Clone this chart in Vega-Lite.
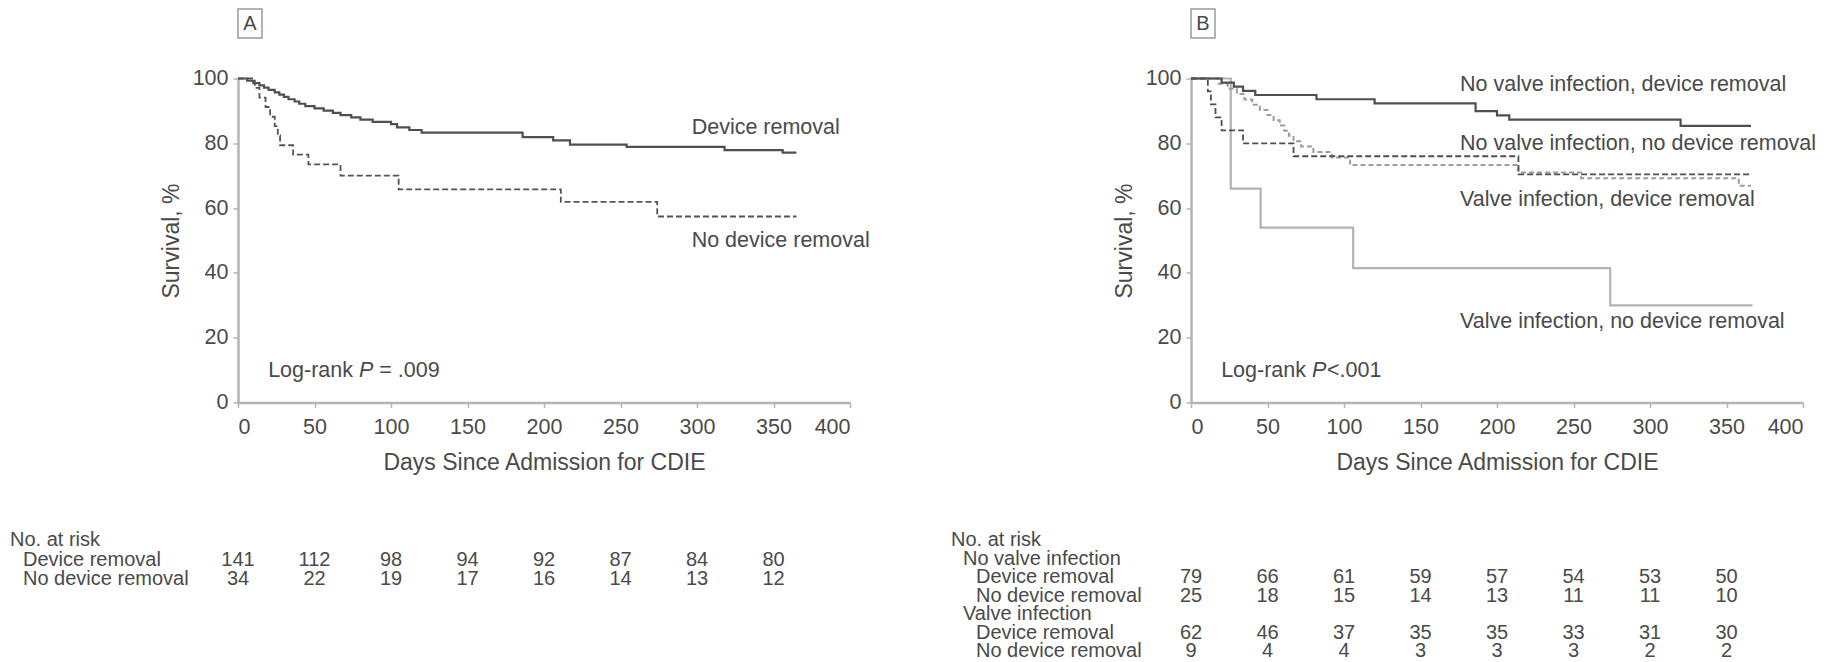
{
  "$schema": "https://vega.github.io/schema/vega-lite/v6.json",
  "padding": {"left": 10, "top": 8, "right": 0, "bottom": 0},
  "background": "white",
  "config": {
    "view": {"stroke": null},
    "font": "Liberation Sans",
    "text": {"font": "Liberation Sans", "fontSize": 21.5, "color": "#4a4a4a"},
    "axis": {
      "grid": false,
      "domainColor": "#b5b5b5",
      "domainWidth": 2.5,
      "tickColor": "#b5b5b5",
      "tickWidth": 1.5,
      "tickSize": 5,
      "labelFont": "Liberation Sans",
      "labelFontSize": 21.5,
      "labelColor": "#4a4a4a",
      "labelPadding": 5,
      "titleFont": "Liberation Sans",
      "titleFontSize": 23,
      "titleFontWeight": "normal",
      "titleColor": "#4a4a4a"
    },
    "axisX": {"labelPadding": 9, "titlePadding": 13},
    "axisY": {"titlePadding": 9}
  },
  "datasets": {
    "kmA": [
      {"group": "Device removal", "day": 0, "surv": 100},
      {"group": "Device removal", "day": 6, "surv": 99.3},
      {"group": "Device removal", "day": 10, "surv": 98.6},
      {"group": "Device removal", "day": 14, "surv": 97.9},
      {"group": "Device removal", "day": 17, "surv": 97.2},
      {"group": "Device removal", "day": 20, "surv": 96.5},
      {"group": "Device removal", "day": 24, "surv": 95.7},
      {"group": "Device removal", "day": 27, "surv": 95.0},
      {"group": "Device removal", "day": 30, "surv": 94.3},
      {"group": "Device removal", "day": 33, "surv": 93.6},
      {"group": "Device removal", "day": 37, "surv": 92.9},
      {"group": "Device removal", "day": 40, "surv": 92.2},
      {"group": "Device removal", "day": 44, "surv": 91.5},
      {"group": "Device removal", "day": 50, "surv": 90.8},
      {"group": "Device removal", "day": 56, "surv": 90.1},
      {"group": "Device removal", "day": 62, "surv": 89.4},
      {"group": "Device removal", "day": 67, "surv": 88.7},
      {"group": "Device removal", "day": 74, "surv": 88.0},
      {"group": "Device removal", "day": 80, "surv": 87.3},
      {"group": "Device removal", "day": 88, "surv": 86.6},
      {"group": "Device removal", "day": 100, "surv": 85.9},
      {"group": "Device removal", "day": 104, "surv": 84.9},
      {"group": "Device removal", "day": 112, "surv": 84.1},
      {"group": "Device removal", "day": 120, "surv": 83.3},
      {"group": "Device removal", "day": 186, "surv": 81.9},
      {"group": "Device removal", "day": 206, "surv": 80.9},
      {"group": "Device removal", "day": 217, "surv": 79.6},
      {"group": "Device removal", "day": 254, "surv": 78.9},
      {"group": "Device removal", "day": 318, "surv": 77.9},
      {"group": "Device removal", "day": 356, "surv": 77.1},
      {"group": "Device removal", "day": 365, "surv": 77.1},
      {"group": "No device removal", "day": 0, "surv": 100},
      {"group": "No device removal", "day": 11, "surv": 97.1},
      {"group": "No device removal", "day": 14, "surv": 94.1},
      {"group": "No device removal", "day": 18, "surv": 91.2},
      {"group": "No device removal", "day": 21, "surv": 88.2},
      {"group": "No device removal", "day": 24, "surv": 85.3},
      {"group": "No device removal", "day": 26, "surv": 82.4},
      {"group": "No device removal", "day": 27.5, "surv": 79.4},
      {"group": "No device removal", "day": 36, "surv": 76.5},
      {"group": "No device removal", "day": 46, "surv": 73.5},
      {"group": "No device removal", "day": 67, "surv": 70.0},
      {"group": "No device removal", "day": 105, "surv": 65.8},
      {"group": "No device removal", "day": 211, "surv": 61.9},
      {"group": "No device removal", "day": 274, "surv": 57.4},
      {"group": "No device removal", "day": 365, "surv": 57.4}
    ],
    "kmB": [
      {"group": "NV-DR", "day": 0, "surv": 100},
      {"group": "NV-DR", "day": 20, "surv": 98.7},
      {"group": "NV-DR", "day": 28, "surv": 97.5},
      {"group": "NV-DR", "day": 34, "surv": 96.2},
      {"group": "NV-DR", "day": 42, "surv": 94.9},
      {"group": "NV-DR", "day": 82, "surv": 93.6},
      {"group": "NV-DR", "day": 120, "surv": 92.3},
      {"group": "NV-DR", "day": 186, "surv": 89.9},
      {"group": "NV-DR", "day": 200, "surv": 88.6},
      {"group": "NV-DR", "day": 208, "surv": 87.3},
      {"group": "NV-DR", "day": 320, "surv": 85.4},
      {"group": "NV-DR", "day": 366, "surv": 85.4},
      {"group": "NV-NDR", "day": 0, "surv": 100},
      {"group": "NV-NDR", "day": 11, "surv": 96},
      {"group": "NV-NDR", "day": 13, "surv": 92},
      {"group": "NV-NDR", "day": 16, "surv": 88},
      {"group": "NV-NDR", "day": 20, "surv": 84},
      {"group": "NV-NDR", "day": 34, "surv": 80},
      {"group": "NV-NDR", "day": 67, "surv": 76},
      {"group": "NV-NDR", "day": 214, "surv": 70.4},
      {"group": "NV-NDR", "day": 366, "surv": 70.4},
      {"group": "VI-DR", "day": 0, "surv": 100},
      {"group": "VI-DR", "day": 18, "surv": 98.4},
      {"group": "VI-DR", "day": 24, "surv": 96.8},
      {"group": "VI-DR", "day": 30, "surv": 95.2},
      {"group": "VI-DR", "day": 35, "surv": 93.5},
      {"group": "VI-DR", "day": 40, "surv": 91.9},
      {"group": "VI-DR", "day": 45, "surv": 90.3},
      {"group": "VI-DR", "day": 50, "surv": 88.7},
      {"group": "VI-DR", "day": 54, "surv": 87.1},
      {"group": "VI-DR", "day": 58, "surv": 85.5},
      {"group": "VI-DR", "day": 61, "surv": 83.9},
      {"group": "VI-DR", "day": 64, "surv": 82.3},
      {"group": "VI-DR", "day": 67, "surv": 80.6},
      {"group": "VI-DR", "day": 72, "surv": 79.0},
      {"group": "VI-DR", "day": 80, "surv": 77.3},
      {"group": "VI-DR", "day": 92, "surv": 75.6},
      {"group": "VI-DR", "day": 104, "surv": 73.3},
      {"group": "VI-DR", "day": 214, "surv": 71.0},
      {"group": "VI-DR", "day": 255, "surv": 69.2},
      {"group": "VI-DR", "day": 358, "surv": 66.9},
      {"group": "VI-DR", "day": 366, "surv": 66.9},
      {"group": "VI-NDR", "day": 0, "surv": 100},
      {"group": "VI-NDR", "day": 26, "surv": 66},
      {"group": "VI-NDR", "day": 45.5, "surv": 54},
      {"group": "VI-NDR", "day": 106, "surv": 41.5},
      {"group": "VI-NDR", "day": 274, "surv": 30},
      {"group": "VI-NDR", "day": 367, "surv": 30}
    ],
    "riskA": [
      {"row": 2, "day": 0, "n": 141}, {"row": 2, "day": 50, "n": 112}, {"row": 2, "day": 100, "n": 98}, {"row": 2, "day": 150, "n": 94},
      {"row": 2, "day": 200, "n": 92}, {"row": 2, "day": 250, "n": 87}, {"row": 2, "day": 300, "n": 84}, {"row": 2, "day": 350, "n": 80},
      {"row": 3, "day": 0, "n": 34}, {"row": 3, "day": 50, "n": 22}, {"row": 3, "day": 100, "n": 19}, {"row": 3, "day": 150, "n": 17},
      {"row": 3, "day": 200, "n": 16}, {"row": 3, "day": 250, "n": 14}, {"row": 3, "day": 300, "n": 13}, {"row": 3, "day": 350, "n": 12}
    ],
    "rowsA": [
      {"row": 1, "label": "No. at risk", "level": 0},
      {"row": 2, "label": "Device removal", "level": 2},
      {"row": 3, "label": "No device removal", "level": 2}
    ],
    "riskB": [
      {"row": 3, "day": 0, "n": 79}, {"row": 3, "day": 50, "n": 66}, {"row": 3, "day": 100, "n": 61}, {"row": 3, "day": 150, "n": 59},
      {"row": 3, "day": 200, "n": 57}, {"row": 3, "day": 250, "n": 54}, {"row": 3, "day": 300, "n": 53}, {"row": 3, "day": 350, "n": 50},
      {"row": 4, "day": 0, "n": 25}, {"row": 4, "day": 50, "n": 18}, {"row": 4, "day": 100, "n": 15}, {"row": 4, "day": 150, "n": 14},
      {"row": 4, "day": 200, "n": 13}, {"row": 4, "day": 250, "n": 11}, {"row": 4, "day": 300, "n": 11}, {"row": 4, "day": 350, "n": 10},
      {"row": 6, "day": 0, "n": 62}, {"row": 6, "day": 50, "n": 46}, {"row": 6, "day": 100, "n": 37}, {"row": 6, "day": 150, "n": 35},
      {"row": 6, "day": 200, "n": 35}, {"row": 6, "day": 250, "n": 33}, {"row": 6, "day": 300, "n": 31}, {"row": 6, "day": 350, "n": 30},
      {"row": 7, "day": 0, "n": 9}, {"row": 7, "day": 50, "n": 4}, {"row": 7, "day": 100, "n": 4}, {"row": 7, "day": 150, "n": 3},
      {"row": 7, "day": 200, "n": 3}, {"row": 7, "day": 250, "n": 3}, {"row": 7, "day": 300, "n": 2}, {"row": 7, "day": 350, "n": 2}
    ],
    "rowsB": [
      {"row": 1, "label": "No. at risk", "level": 0},
      {"row": 2, "label": "No valve infection", "level": 1},
      {"row": 3, "label": "Device removal", "level": 2},
      {"row": 4, "label": "No device removal", "level": 2},
      {"row": 5, "label": "Valve infection", "level": 1},
      {"row": 6, "label": "Device removal", "level": 2},
      {"row": 7, "label": "No device removal", "level": 2}
    ]
  },
  "hconcat": [
    {
      "spacing": 28.5,
      "vconcat": [
        {
          "width": 24,
          "height": 29,
          "view": {"stroke": "#9a9a9a", "strokeWidth": 1.5},
          "data": {"values": [{"panel": "A"}]},
          "mark": {"type": "text", "fontSize": 20, "baseline": "middle", "align": "center"},
          "encoding": {"text": {"field": "panel"}}
        },
        {
          "width": 612,
          "height": 324,
          "layer": [
            {
              "data": {"name": "kmA"},
              "transform": [{"filter": "datum.group === 'Device removal'"}],
              "mark": {"type": "line", "interpolate": "step-after", "color": "#4f4f4f", "strokeWidth": 2.2},
              "encoding": {
                "x": {"field": "day", "type": "quantitative", "scale": {"domain": [0, 400], "nice": false},
                      "axis": {"values": [0, 50, 100, 150, 200, 250, 300, 350, 400], "title": "Days Since Admission for CDIE"}},
                "y": {"field": "surv", "type": "quantitative", "scale": {"domain": [0, 100], "nice": false},
                      "axis": {"values": [0, 20, 40, 60, 80, 100], "title": "Survival, %"}}
              }
            },
            {
              "data": {"name": "kmA"},
              "transform": [{"filter": "datum.group === 'No device removal'"}],
              "mark": {"type": "line", "interpolate": "step-after", "color": "#555555", "strokeWidth": 1.8, "strokeDash": [6, 3]},
              "encoding": {
                "x": {"field": "day", "type": "quantitative"},
                "y": {"field": "surv", "type": "quantitative"}
              }
            },
            {
              "data": {"values": [{"label": "Device removal"}]},
              "mark": {"type": "text", "align": "left", "baseline": "middle"},
              "encoding": {"x": {"datum": 296.5, "type": "quantitative"}, "y": {"datum": 84.8, "type": "quantitative"}, "text": {"field": "label"}}
            },
            {
              "data": {"values": [{"label": "No device removal"}]},
              "mark": {"type": "text", "align": "left", "baseline": "middle"},
              "encoding": {"x": {"datum": 296.5, "type": "quantitative"}, "y": {"datum": 49.9, "type": "quantitative"}, "text": {"field": "label"}}
            },
            {
              "data": {"values": [{"t": "Log-rank"}]},
              "mark": {"type": "text", "align": "left", "baseline": "middle"},
              "encoding": {"x": {"datum": 19.7, "type": "quantitative"}, "y": {"datum": 9.6, "type": "quantitative"}, "text": {"field": "t"}}
            },
            {
              "data": {"values": [{"t": "P"}]},
              "mark": {"type": "text", "align": "left", "baseline": "middle", "fontStyle": "italic", "dx": 90.8},
              "encoding": {"x": {"datum": 19.7, "type": "quantitative"}, "y": {"datum": 9.6, "type": "quantitative"}, "text": {"field": "t"}}
            },
            {
              "data": {"values": [{"t": "= .009"}]},
              "mark": {"type": "text", "align": "left", "baseline": "middle", "dx": 111.2},
              "encoding": {"x": {"datum": 19.7, "type": "quantitative"}, "y": {"datum": 9.6, "type": "quantitative"}, "text": {"field": "t"}}
            }
          ]
        },
        {
          "width": 612,
          "height": 76,
          "layer": [
            {
              "data": {"name": "riskA"},
              "mark": {"type": "text", "align": "center", "baseline": "middle", "fontSize": 20},
              "encoding": {
                "x": {"field": "day", "type": "quantitative", "scale": {"domain": [0, 400], "nice": false}, "axis": null},
                "y": {"field": "row", "type": "ordinal", "scale": {"type": "point", "domain": [1, 2, 3], "padding": 0.949, "align": 1}, "axis": null},
                "text": {"field": "n"}
              }
            },
            {
              "data": {"name": "rowsA"},
              "transform": [{"filter": "datum.level === 0"}],
              "mark": {"type": "text", "align": "left", "baseline": "middle", "fontSize": 20, "dx": -228},
              "encoding": {"x": {"datum": 0, "type": "quantitative"}, "y": {"field": "row", "type": "ordinal"}, "text": {"field": "label"}}
            },
            {
              "data": {"name": "rowsA"},
              "transform": [{"filter": "datum.level === 2"}],
              "mark": {"type": "text", "align": "left", "baseline": "middle", "fontSize": 20, "dx": -215},
              "encoding": {"x": {"datum": 0, "type": "quantitative"}, "y": {"field": "row", "type": "ordinal"}, "text": {"field": "label"}}
            }
          ]
        }
      ]
    },
    {
      "spacing": 28.5,
      "vconcat": [
        {
          "width": 24,
          "height": 29,
          "view": {"stroke": "#9a9a9a", "strokeWidth": 1.5},
          "data": {"values": [{"panel": "B"}]},
          "mark": {"type": "text", "fontSize": 20, "baseline": "middle", "align": "center"},
          "encoding": {"text": {"field": "panel"}}
        },
        {
          "width": 612,
          "height": 324,
          "layer": [
            {
              "data": {"name": "kmB"},
              "transform": [{"filter": "datum.group === 'VI-NDR'"}],
              "mark": {"type": "line", "interpolate": "step-after", "color": "#b3b3b3", "strokeWidth": 2.2},
              "encoding": {
                "x": {"field": "day", "type": "quantitative", "scale": {"domain": [0, 400], "nice": false},
                      "axis": {"values": [0, 50, 100, 150, 200, 250, 300, 350, 400], "title": "Days Since Admission for CDIE"}},
                "y": {"field": "surv", "type": "quantitative", "scale": {"domain": [0, 100], "nice": false},
                      "axis": {"values": [0, 20, 40, 60, 80, 100], "title": "Survival, %"}}
              }
            },
            {
              "data": {"name": "kmB"},
              "transform": [{"filter": "datum.group === 'VI-DR'"}],
              "mark": {"type": "line", "interpolate": "step-after", "color": "#9c9c9c", "strokeWidth": 2, "strokeDash": [5, 3]},
              "encoding": {"x": {"field": "day", "type": "quantitative"}, "y": {"field": "surv", "type": "quantitative"}}
            },
            {
              "data": {"name": "kmB"},
              "transform": [{"filter": "datum.group === 'NV-NDR'"}],
              "mark": {"type": "line", "interpolate": "step-after", "color": "#4f4f4f", "strokeWidth": 1.8, "strokeDash": [6, 3]},
              "encoding": {"x": {"field": "day", "type": "quantitative"}, "y": {"field": "surv", "type": "quantitative"}}
            },
            {
              "data": {"name": "kmB"},
              "transform": [{"filter": "datum.group === 'NV-DR'"}],
              "mark": {"type": "line", "interpolate": "step-after", "color": "#4f4f4f", "strokeWidth": 2.2},
              "encoding": {"x": {"field": "day", "type": "quantitative"}, "y": {"field": "surv", "type": "quantitative"}}
            },
            {
              "data": {"values": [{"label": "No valve infection, device removal"}]},
              "mark": {"type": "text", "align": "left", "baseline": "middle"},
              "encoding": {"x": {"datum": 175.8, "type": "quantitative"}, "y": {"datum": 97.9, "type": "quantitative"}, "text": {"field": "label"}}
            },
            {
              "data": {"values": [{"label": "No valve infection, no device removal"}]},
              "mark": {"type": "text", "align": "left", "baseline": "middle"},
              "encoding": {"x": {"datum": 175.8, "type": "quantitative"}, "y": {"datum": 79.9, "type": "quantitative"}, "text": {"field": "label"}}
            },
            {
              "data": {"values": [{"label": "Valve infection, device removal"}]},
              "mark": {"type": "text", "align": "left", "baseline": "middle"},
              "encoding": {"x": {"datum": 175.8, "type": "quantitative"}, "y": {"datum": 62.4, "type": "quantitative"}, "text": {"field": "label"}}
            },
            {
              "data": {"values": [{"label": "Valve infection, no device removal"}]},
              "mark": {"type": "text", "align": "left", "baseline": "middle"},
              "encoding": {"x": {"datum": 175.8, "type": "quantitative"}, "y": {"datum": 24.9, "type": "quantitative"}, "text": {"field": "label"}}
            },
            {
              "data": {"values": [{"t": "Log-rank"}]},
              "mark": {"type": "text", "align": "left", "baseline": "middle"},
              "encoding": {"x": {"datum": 19.7, "type": "quantitative"}, "y": {"datum": 9.6, "type": "quantitative"}, "text": {"field": "t"}}
            },
            {
              "data": {"values": [{"t": "P"}]},
              "mark": {"type": "text", "align": "left", "baseline": "middle", "fontStyle": "italic", "dx": 90.8},
              "encoding": {"x": {"datum": 19.7, "type": "quantitative"}, "y": {"datum": 9.6, "type": "quantitative"}, "text": {"field": "t"}}
            },
            {
              "data": {"values": [{"t": "<.001"}]},
              "mark": {"type": "text", "align": "left", "baseline": "middle", "dx": 105.9},
              "encoding": {"x": {"datum": 19.7, "type": "quantitative"}, "y": {"datum": 9.6, "type": "quantitative"}, "text": {"field": "t"}}
            }
          ]
        },
        {
          "width": 612,
          "height": 148,
          "layer": [
            {
              "data": {"name": "riskB"},
              "mark": {"type": "text", "align": "center", "baseline": "middle", "fontSize": 20},
              "encoding": {
                "x": {"field": "day", "type": "quantitative", "scale": {"domain": [0, 400], "nice": false}, "axis": null},
                "y": {"field": "row", "type": "ordinal", "scale": {"type": "point", "domain": [1, 2, 3, 4, 5, 6, 7], "padding": 1.0, "align": 1}, "axis": null},
                "text": {"field": "n"}
              }
            },
            {
              "data": {"name": "rowsB"},
              "transform": [{"filter": "datum.level === 0"}],
              "mark": {"type": "text", "align": "left", "baseline": "middle", "fontSize": 20, "dx": -240},
              "encoding": {"x": {"datum": 0, "type": "quantitative"}, "y": {"field": "row", "type": "ordinal"}, "text": {"field": "label"}}
            },
            {
              "data": {"name": "rowsB"},
              "transform": [{"filter": "datum.level === 1"}],
              "mark": {"type": "text", "align": "left", "baseline": "middle", "fontSize": 20, "dx": -228},
              "encoding": {"x": {"datum": 0, "type": "quantitative"}, "y": {"field": "row", "type": "ordinal"}, "text": {"field": "label"}}
            },
            {
              "data": {"name": "rowsB"},
              "transform": [{"filter": "datum.level === 2"}],
              "mark": {"type": "text", "align": "left", "baseline": "middle", "fontSize": 20, "dx": -215},
              "encoding": {"x": {"datum": 0, "type": "quantitative"}, "y": {"field": "row", "type": "ordinal"}, "text": {"field": "label"}}
            }
          ]
        }
      ]
    }
  ],
  "spacing": 81
}
